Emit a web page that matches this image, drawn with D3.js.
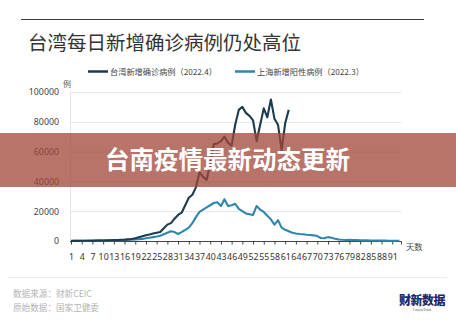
<!DOCTYPE html>
<html>
<head>
<meta charset="utf-8">
<script src="https://cdn.jsdelivr.net/npm/d3@7"></script>
<style>
  html, body { margin: 0; padding: 0; background: #fff; }
  svg { display: block; font-family: "Noto Sans CJK SC", "Noto Sans", sans-serif; }
</style>
</head>
<body>
<svg id="chart" width="456" height="320"></svg>
<script>
// Daily new cases, Taiwan (April 2022 onward), day 1..62
const taiwanCases = [
  50, 80, 100, 120, 150, 180, 200, 250, 300, 350,
  400, 500, 600, 700, 800, 900, 1100, 1300, 1800, 2500,
  3200, 3800, 4300, 5000, 5500, 6000, 8500, 11000, 12000, 15000,
  17500, 19000, 24000, 29000, 31000, 36000, 46000, 43000, 41000, 52000,
  65000, 65500, 67000, 70000, 66000, 64000, 78000, 88000, 90000, 86000,
  84000, 81000, 67000, 78000, 89000, 83000, 95000, 82000, 78000, 61000,
  79000, 88000
];
// Daily new positives, Shanghai (March 2022 onward), day 1..93
const shanghaiCases = [
  200, 150, 100, 150, 200, 250, 300, 350, 400, 300,
  350, 400, 400, 500, 500, 700, 800, 900, 1000, 1200,
  1400, 1800, 2200, 2600, 3000, 3500, 4500, 5500, 6500, 6000,
  4700, 6000, 7500, 9000, 12000, 16000, 19500, 21000, 22500, 24000,
  25500, 26000, 23500, 28000, 23500, 24000, 25000, 21500, 20000, 18500,
  18000, 17500, 23500, 21000, 19500, 17000, 14500, 11000, 14000, 9000,
  7500, 6500, 5500, 5000, 4700, 4500, 4200, 4000, 3800, 3300,
  2000, 1800, 2600, 2200, 1500, 1000, 800, 700, 800, 700,
  600, 500, 450, 400, 350, 300, 300, 250, 250, 200,
  200, 200, 150
];
const yTicks = [0, 20000, 40000, 60000, 80000, 100000];
const xTicks = d3.range(1, 92, 3);
const seriesNames = ["台湾新增确诊病例（2022.4）", "上海新增阳性病例（2022.3）"];
const seriesColors = ["#1d3b4f", "#2f86ad"];

const svg = d3.select("#chart");

// top rule and title
svg.append("line").attr("x1", 21).attr("x2", 424).attr("y1", 19.5).attr("y2", 19.5)
  .attr("stroke", "#3a3a3a").attr("stroke-width", 1);
svg.append("text").attr("x", 28).attr("y", 50)
  .attr("font-size", 19.5).attr("fill", "#333")
  .text("台湾每日新增确诊病例仍处高位");

// legend
const legendX = [88, 235];
seriesNames.forEach((name, i) => {
  const g = svg.append("g").attr("transform", `translate(${legendX[i]},71.5)`);
  g.append("line").attr("x1", 0).attr("x2", 20).attr("y1", 0).attr("y2", 0)
    .attr("stroke", seriesColors[i]).attr("stroke-width", 2.5);
  g.append("text").attr("x", 22).attr("y", 3).attr("font-size", 8.2)
    .attr("fill", "#444").text(name);
});

// scales
const x = d3.scaleLinear().domain([1, 93]).range([71, 399.4]);
const y = d3.scaleLinear().domain([0, 100000]).range([241, 92]);

// gridlines
svg.append("g").selectAll("line").data(yTicks.slice(1)).join("line")
  .attr("x1", 70).attr("x2", 401).attr("y1", d => y(d) + 0.5).attr("y2", d => y(d) + 0.5)
  .attr("stroke", "#e4e4e4").attr("stroke-width", 1);
svg.append("line").attr("x1", 70.5).attr("x2", 70.5).attr("y1", 92).attr("y2", 241)
  .attr("stroke", "#e4e4e4");

// y axis labels
const yAxis = d3.axisLeft(y).tickValues(yTicks).tickSize(0).tickPadding(11)
  .tickFormat(d3.format("d"));
const gy = svg.append("g").attr("transform", "translate(70,0)").call(yAxis);
gy.select(".domain").remove();
gy.selectAll("text").attr("font-size", 8.8).attr("fill", "#444")
  .attr("font-family", "'Noto Sans', sans-serif");

svg.append("text").attr("x", 63).attr("y", 87).attr("font-size", 8)
  .attr("fill", "#555").text("例");

// x axis
const xAxis = d3.axisBottom(x).tickValues(xTicks).tickSizeInner(3).tickSizeOuter(0)
  .tickPadding(9);
const gx = svg.append("g").attr("transform", "translate(0,241.5)").call(xAxis);
gx.select(".domain").attr("d", `M70,0H401.5V3`).attr("stroke", "#444");
gx.selectAll(".tick line").attr("stroke", "#444");
gx.selectAll("text").attr("font-size", 8.8).attr("fill", "#333")
  .attr("font-family", "'Noto Sans', sans-serif");

svg.append("text").attr("x", 406).attr("y", 250).attr("font-size", 8.3)
  .attr("fill", "#444").text("天数");

// series lines
const line = d3.line().x((d, i) => x(i + 1)).y(d => y(d));
[shanghaiCases, taiwanCases].forEach((data, k) => {
  const color = k === 0 ? seriesColors[1] : seriesColors[0];
  svg.append("path").datum(data).attr("d", line)
    .attr("fill", "none").attr("stroke", color).attr("stroke-width", 2.1)
    .attr("stroke-linejoin", "round");
});

// footer
svg.append("line").attr("x1", 8).attr("x2", 447).attr("y1", 277.5).attr("y2", 277.5)
  .attr("stroke", "#ececec");
svg.append("text").attr("x", 13).attr("y", 296.5).attr("font-size", 8.6)
  .attr("fill", "#b3b3b3").text("数据来源：财新CEIC");
svg.append("text").attr("x", 13).attr("y", 310.5).attr("font-size", 8.6)
  .attr("fill", "#b3b3b3").text("原始数据：国家卫健委");
svg.append("text").attr("x", 422).attr("y", 305).attr("text-anchor", "middle")
  .attr("font-size", 12).attr("font-weight", 900).attr("fill", "#1e2a66")
  .attr("letter-spacing", -0.5).text("财新数据");
svg.append("text").attr("x", 422).attr("y", 311).attr("text-anchor", "middle")
  .attr("font-size", 3.5).attr("fill", "#555").text("Caixin Data");

// headline banner
svg.append("rect").attr("x", 0).attr("y", 133).attr("width", 456).attr("height", 54)
  .attr("fill", "rgba(160,70,55,0.75)");
svg.append("text").attr("x", 227.5).attr("y", 169).attr("text-anchor", "middle")
  .attr("font-size", 24.5).attr("font-weight", 700).attr("fill", "#fff")
  .text("台南疫情最新动态更新");
</script>
</body>
</html>
